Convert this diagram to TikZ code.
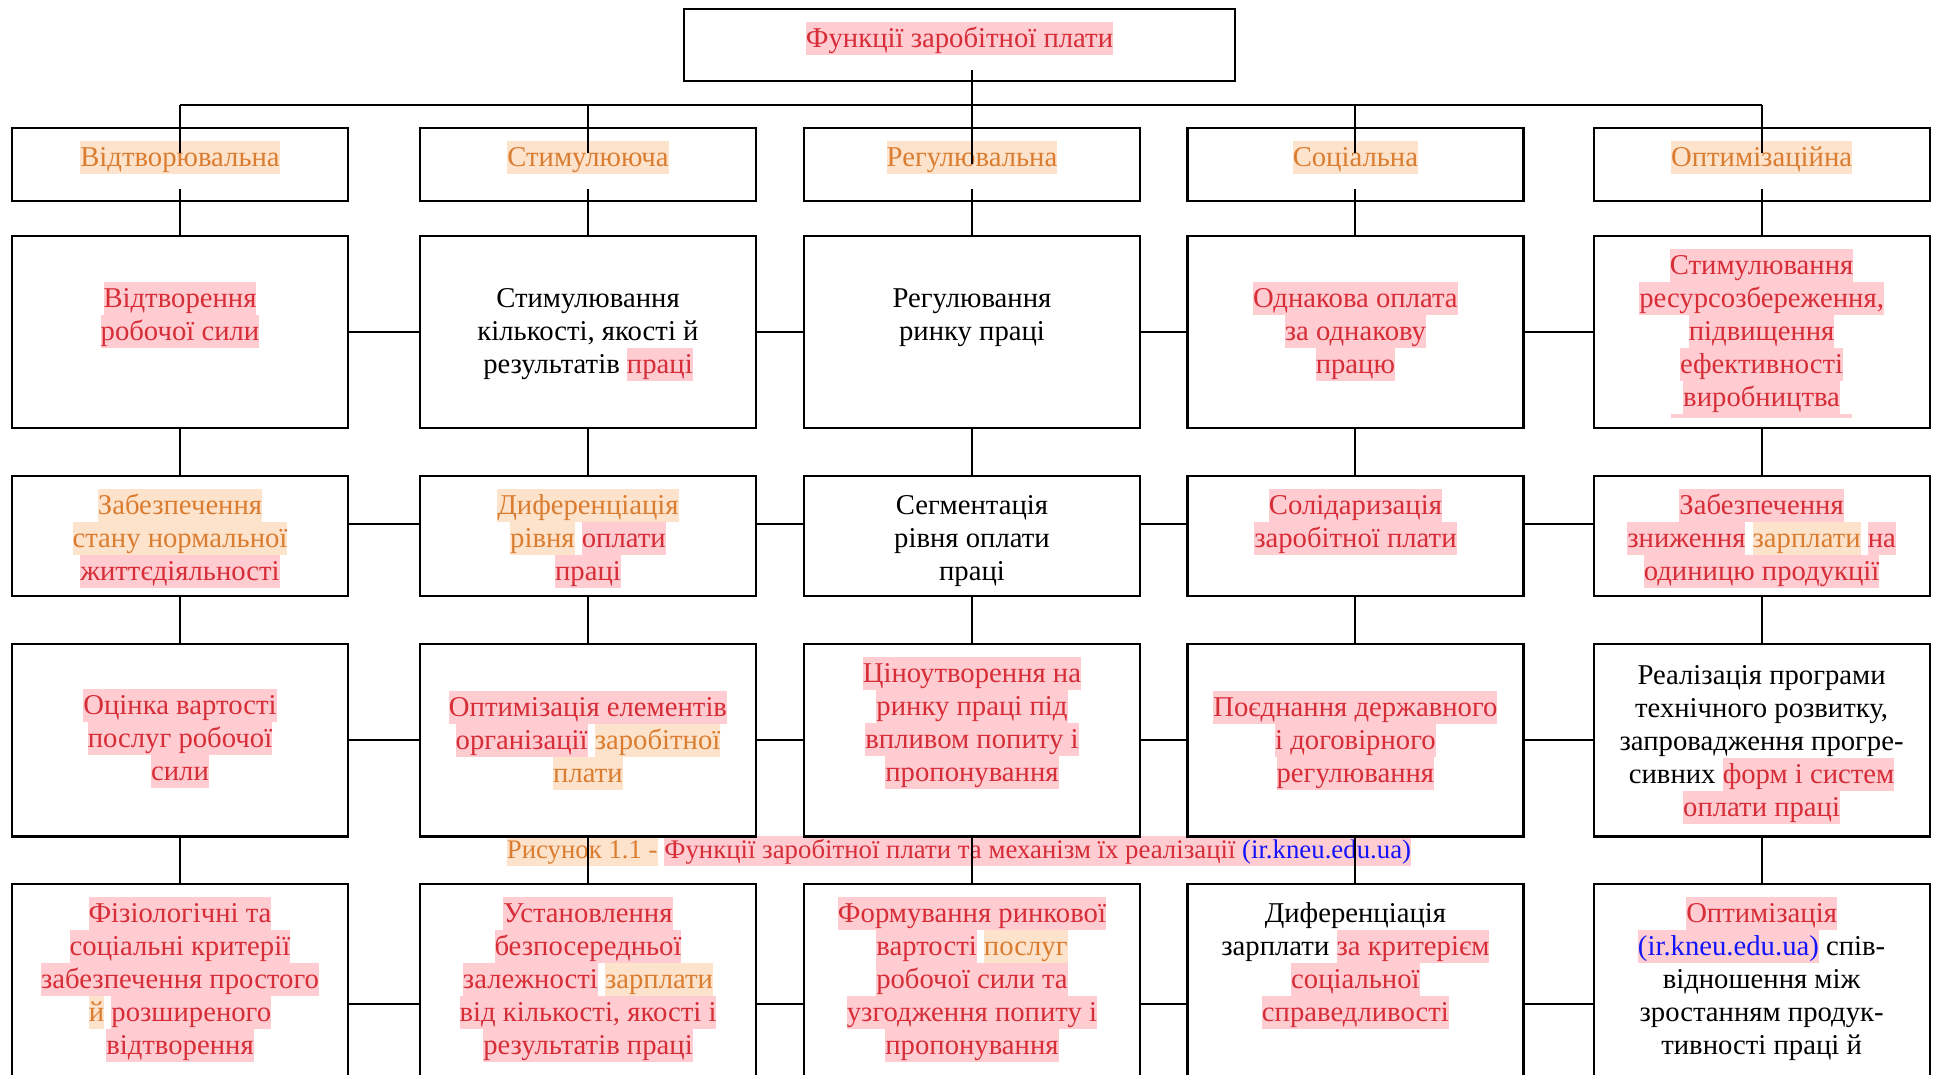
\documentclass[tikz,border=0pt]{standalone}
\usepackage{fontspec}
\setmainfont{Liberation Serif}
\usepackage{tikz}
\usetikzlibrary{calc}

\definecolor{hlpink}{RGB}{255,204,210}
\definecolor{hlred}{RGB}{214,45,55}
\definecolor{hlpeach}{RGB}{253,226,204}
\definecolor{hlorange}{RGB}{218,125,48}
\definecolor{hlblue}{RGB}{20,20,250}

\newcommand{\hstrut}{\rule[-0.23\baselineskip]{0pt}{\baselineskip}}
\newcommand{\hR}[1]{{\setlength{\fboxsep}{0pt}\colorbox{hlpink}{\hstrut\textcolor{hlred}{#1}}}}
\newcommand{\hO}[1]{{\setlength{\fboxsep}{0pt}\colorbox{hlpeach}{\hstrut\textcolor{hlorange}{#1}}}}
\newcommand{\hB}[1]{{\setlength{\fboxsep}{0pt}\colorbox{hlpink}{\hstrut\textcolor{hlblue}{#1}}}}
\newcommand{\boxfont}{\fontsize{14.35}{16.5}\selectfont\setlength{\lineskiplimit}{-20pt}}
\newcommand{\capfont}{\fontsize{13.4}{14.6}\selectfont\setlength{\lineskiplimit}{-20pt}}

\tikzset{
    fbox/.style={draw, line width=1.1pt, inner sep=0pt, minimum width=168pt},
    ftext/.style={anchor=north, inner sep=0pt, align=center, font=\boxfont, yshift=-1pt},
    fline/.style={line width=1pt}
}

\begin{document}
\begin{tikzpicture}[x=0.5pt,y=-0.5pt]
                    \useasboundingbox (0,0) rectangle (1933,1075);

                    % caption sits behind the lines
                    \node[ftext, font=\capfont] (cap) at (959,834)
                        {\hO{Рисунок 1.1 -} \hR{Функції заробітної плати та механізм їх реалізації \textcolor{hlblue}{(ir.kneu.edu.ua)}}};

                    \node[fbox, minimum width=275.85pt, minimum height=36pt] (top) at (959.5,45.3) {};
                    \foreach \x [count=\i] in {180,588,972,1355.4,1761.6} {
                        \node[fbox, minimum height=36.35pt] (f\i) at (\x,164.35) {};
                        \node[fbox, minimum height=96pt] (g\i) at (\x,332) {};
                        \node[fbox, minimum height=60.15pt] (h\i) at (\x,536.15) {};
                        \node[fbox, minimum height=96.25pt] (k\i) at (\x,740.25) {};
                        \node[fbox, minimum height=120pt] (m\i) at (\x,1004) {};
                    }

                    \node[ftext] (ttop) at (959.5,20) {\hR{Функції заробітної плати}};

                    \node[ftext] (tf1) at (180,139) {\hO{Відтворювальна}};
                    \node[ftext] (tf2) at (588,139) {\hO{Стимулююча}};
                    \node[ftext] (tf3) at (972,139) {\hO{Регулювальна}};
                    \node[ftext] (tf4) at (1355.4,139) {\hO{Соціальна}};
                    \node[ftext] (tf5) at (1761.6,139) {\hO{Оптимізаційна}};

                    \node[ftext] (tg1) at (180,280) {\hR{Відтворення}\\\hR{робочої сили}};
                    \node[ftext] (tg2) at (588,280) {\hstrut Стимулювання\\кількості, якості й\\результатів \hR{праці}};
                    \node[ftext] (tg3) at (972,280) {\hstrut Регулювання\\ринку праці};
                    \node[ftext] (tg4) at (1355.4,280) {\hR{Однакова оплата}\\\hR{за однакову}\\\hR{працю}};
                    \begin{scope}
                        \clip (1594.7,236) rectangle (1928.5,417.7);
                        \node[ftext] (tg5) at (1761.6,247) {\hR{Стимулювання}\\\hR{ресурсозбереження,}\\\hR{підвищення}\\\hR{ефективності}\\\hR{виробництва}\\\hB{(ir.kneu.edu.ua)}};
                    \end{scope}

                    \node[ftext] (th1) at (180,487) {\hO{Забезпечення}\\\hO{стану нормальної}\\\hR{життєдіяльності}};
                    \node[ftext] (th2) at (588,487) {\hO{Диференціація}\\\hO{рівня} \hR{оплати}\\\hR{праці}};
                    \node[ftext] (th3) at (972,487) {\hstrut Сегментація\\рівня оплати\\праці};
                    \node[ftext] (th4) at (1355.4,487) {\hR{Солідаризація}\\\hR{заробітної плати}};
                    \node[ftext] (th5) at (1761.6,487) {\hR{Забезпечення}\\\hR{зниження} \hO{зарплати} \hR{на}\\\hR{одиницю продукції}};

                    \node[ftext] (tk1) at (180,687) {\hR{Оцінка вартості}\\\hR{послуг робочої}\\\hR{сили}};
                    \node[ftext] (tk2) at (588,689) {\hR{Оптимізація елементів}\\\hR{організації} \hO{заробітної}\\\hO{плати}};
                    \node[ftext] (tk3) at (972,655) {\hR{Ціноутворення на}\\\hR{ринку праці під}\\\hR{впливом попиту і}\\\hR{пропонування}};
                    \node[ftext] (tk4) at (1355.4,689) {\hR{Поєднання державного}\\\hR{і договірного}\\\hR{регулювання}};
                    \node[ftext] (tk5) at (1761.6,657) {\hstrut Реалізація програми\\технічного розвитку,\\запровадження прогре-\\сивних \hR{форм і систем}\\\hR{оплати праці}};

                    \node[ftext] (tm1) at (180,895) {\hR{Фізіологічні та}\\\hR{соціальні критерії}\\\hR{забезпечення простого}\\\hO{й} \hR{розширеного}\\\hR{відтворення}};
                    \node[ftext] (tm2) at (588,895) {\hR{Установлення}\\\hR{безпосередньої}\\\hR{залежності} \hO{зарплати}\\\hR{від кількості, якості і}\\\hR{результатів праці}};
                    \node[ftext] (tm3) at (972,895) {\hR{Формування ринкової}\\\hR{вартості} \hO{послуг}\\\hR{робочої сили та}\\\hR{узгодження попиту і}\\\hR{пропонування}};
                    \node[ftext] (tm4) at (1355.4,895) {\hstrut Диференціація\\зарплати \hR{за критерієм}\\\hR{соціальної}\\\hR{справедливості}};
                    \node[ftext] (tm5) at (1761.6,895) {\hR{Оптимізація}\\\hB{(ir.kneu.edu.ua)} спів-\\відношення між\\зростанням продук-\\тивності праці й};

                    % connectors
                    \coordinate (bus) at (0,105);
                    \draw[fline] (f1.north |- bus) -- (f5.north |- bus);
                    \draw[fline] ([yshift=6pt]f3.north |- top.south) -- ([yshift=-18.5pt]f3.north);
                    \foreach \i in {1,2,4,5}
                        \draw[fline] (f\i.north |- bus) -- ([yshift=-13pt]f\i.north);
                    \foreach \i in {1,...,5} {
                        \draw[fline] ([yshift=6.2pt]f\i.south) -- (g\i.north);
                        \draw[fline] (g\i.south) -- (h\i.north);
                        \draw[fline] (h\i.south) -- (k\i.north);
                        \draw[fline] (k\i.south) -- (m\i.north);
                    }
                    \foreach \i/\j in {1/2,2/3,3/4,4/5} {
                        \draw[fline] (g\i.east) -- (g\j.west);
                        \draw[fline] ([yshift=6pt]h\i.east) -- ([yshift=6pt]h\j.west);
                        \draw[fline] (k\i.east) -- (k\j.west);
                        \draw[fline] (m\i.east) -- (m\j.west);
                    }
                \end{tikzpicture}
\end{document}
